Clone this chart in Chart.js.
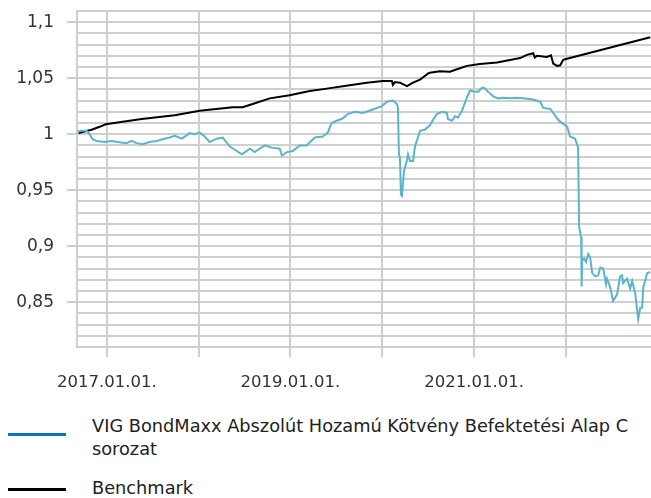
<!DOCTYPE html>
<html>
<head>
<meta charset="utf-8">
<script src="https://cdn.jsdelivr.net/npm/chart.js@4/dist/chart.umd.min.js"></script>
<style>
    body { margin: 0; background: #fff; width: 651px; height: 498px; overflow: hidden; position: relative; font-family: "DejaVu Sans", sans-serif; }
    #wrap { position: absolute; left: 0; top: 0; width: 651px; height: 400px; }
    .leg-line { position: absolute; left: 8px; width: 58px; height: 3px; }
    .leg-text { position: absolute; left: 92px; width: 548px; font-family: "DejaVu Sans", sans-serif; font-size: 17.75px; line-height: 23px; color: #222; }
</style>
</head>
<body>
<div id="wrap"><canvas id="chart" width="651" height="400"></canvas></div>

<div class="leg-line" style="top: 433px; background: #0b72bd;"></div>
<div class="leg-text" style="top: 415px;">VIG BondMaxx Abszolút Hozamú Kötvény Befektetési Alap C sorozat</div>
<div class="leg-line" style="top: 488px; background: #000;"></div>
<div class="leg-text" style="top: 477px;">Benchmark</div>

<script>
// Fund series
var fundDates = [
    '2016-09-06', '2016-09-18', '2016-10-12', '2016-10-24', '2016-11-05', '2016-11-21', '2016-12-23',
    '2017-01-19', '2017-02-13', '2017-03-20', '2017-04-09', '2017-04-29', '2017-05-23', '2017-06-20',
    '2017-07-18', '2017-08-11', '2017-09-08', '2017-09-28', '2017-10-26', '2017-11-14', '2017-11-26', '2017-12-16',
    '2018-01-05', '2018-01-25', '2018-02-14', '2018-03-14', '2018-04-07', '2018-05-05', '2018-06-02',
    '2018-06-22', '2018-07-24', '2018-08-12', '2018-09-21', '2018-10-19', '2018-11-20', '2018-11-28', '2018-12-18',
    '2019-01-11', '2019-02-07', '2019-03-07', '2019-04-08', '2019-05-10', '2019-05-30', '2019-06-14',
    '2019-07-04', '2019-07-28', '2019-08-17', '2019-09-14', '2019-10-16', '2019-11-25', '2019-12-31',
    '2020-01-20', '2020-02-13', '2020-02-29', '2020-03-04', '2020-03-08', '2020-03-12', '2020-03-16',
    '2020-03-20', '2020-03-28', '2020-04-09', '2020-04-13', '2020-04-21', '2020-05-03', '2020-05-11',
    '2020-05-31', '2020-06-19', '2020-07-09', '2020-07-25', '2020-08-06', '2020-08-26', '2020-09-15',
    '2020-09-19', '2020-10-05', '2020-10-17', '2020-10-29', '2020-11-14', '2020-12-04', '2020-12-16',
    '2021-01-05', '2021-01-17', '2021-02-01', '2021-02-13', '2021-02-25', '2021-03-17', '2021-04-06',
    '2021-04-26', '2021-05-24', '2021-06-21', '2021-07-15', '2021-08-24', '2021-09-21', '2021-10-03',
    '2021-10-31', '2021-11-12', '2021-11-28', '2021-12-10',
    '2022-01-06', '2022-01-18', '2022-02-07', '2022-02-19', '2022-02-23', '2022-03-03', '2022-03-05',
    '2022-03-07', '2022-03-15', '2022-03-23', '2022-03-31', '2022-04-08', '2022-04-16', '2022-04-28',
    '2022-05-10', '2022-05-18', '2022-05-30', '2022-06-10', '2022-06-14', '2022-06-26', '2022-07-08',
    '2022-07-24', '2022-08-05', '2022-08-13', '2022-08-17', '2022-09-02', '2022-09-14', '2022-09-22',
    '2022-10-04', '2022-10-16', '2022-10-24', '2022-11-01', '2022-11-05', '2022-11-21', '2022-12-03'
];
var fundValues = [
    1.002, 1.003, 1.003, 1.000, 0.9955, 0.994, 0.993,
    0.994, 0.993, 0.992, 0.994, 0.992, 0.991, 0.993,
    0.994, 0.9955, 0.997, 0.9985, 0.996, 0.999, 1.001, 1.000,
    1.0015, 0.998, 0.993, 0.996, 0.997, 0.989, 0.985,
    0.982, 0.987, 0.984, 0.990, 0.988, 0.987, 0.981, 0.984,
    0.985, 0.990, 0.990, 0.997, 0.998, 1.0015, 1.010,
    1.012, 1.014, 1.018, 1.020, 1.019, 1.022, 1.025,
    1.029, 1.030, 1.027, 1.024, 0.982, 0.979, 0.946,
    0.945, 0.967, 0.977, 0.982, 0.976, 0.976, 0.989,
    1.003, 1.004, 1.008, 1.014, 1.018, 1.020, 1.019,
    1.0135, 1.012, 1.016, 1.015, 1.021, 1.033, 1.039,
    1.038, 1.038, 1.0415, 1.041, 1.038, 1.034, 1.032,
    1.0325, 1.032, 1.0325, 1.032, 1.031, 1.029, 1.0235,
    1.0225, 1.019, 1.014, 1.011,
    1.007, 0.998, 0.996, 0.988, 0.917, 0.908, 0.864,
    0.887, 0.889, 0.886, 0.893, 0.890, 0.876, 0.873,
    0.874, 0.881, 0.880, 0.866, 0.871, 0.864, 0.851,
    0.857, 0.873, 0.874, 0.867, 0.871, 0.862, 0.869,
    0.858, 0.835, 0.845, 0.845, 0.863, 0.876, 0.877
];

// Benchmark series
var benchDates = [
    '2016-09-10', '2016-11-01', '2016-12-03', '2016-12-27', '2017-05-19', '2017-09-28',
    '2018-01-05', '2018-05-16', '2018-06-25', '2018-08-04', '2018-10-11', '2018-12-29',
    '2019-03-19', '2019-05-26', '2019-08-25', '2019-11-01',
    '2020-01-04', '2020-02-09', '2020-02-13', '2020-02-21', '2020-03-12', '2020-04-09', '2020-05-03',
    '2020-05-31', '2020-06-19', '2020-07-01', '2020-07-09', '2020-08-18', '2020-09-27', '2020-10-25', '2020-12-04',
    '2021-01-24', '2021-04-02', '2021-05-24', '2021-07-03', '2021-07-30', '2021-08-24', '2021-08-31',
    '2021-09-08', '2021-10-18', '2021-11-03', '2021-11-12', '2021-11-28', '2021-12-10', '2021-12-21', '2021-12-29',
    '2022-12-03'
];
var benchValues = [
    1.001, 1.004, 1.0066, 1.0088, 1.0135, 1.017,
    1.021, 1.024, 1.024, 1.027, 1.032, 1.0347,
    1.0386, 1.0407, 1.0437, 1.046,
    1.0476, 1.0476, 1.044, 1.0465, 1.046, 1.043, 1.046,
    1.0488, 1.052, 1.054, 1.0549, 1.0563, 1.0558, 1.058, 1.061,
    1.0627, 1.064, 1.0663, 1.068, 1.0708, 1.0723, 1.0684,
    1.070, 1.069, 1.0705, 1.063, 1.061, 1.0615, 1.0663, 1.067,
    1.0865
];

// Axis range and tick labels
var xStart = '2016-09-04';
var xEnd = '2022-12-06';
var yearTicks = ['2017-01-01', '2018-01-01', '2019-01-01', '2020-01-01', '2021-01-01', '2022-01-01'];
var yearLabels = ['2017.01.01.', '', '2019.01.01.', '', '2021.01.01.', ''];
var yMin = 0.81;
var yMax = 1.11;

var gridColor = '#cfcfcf';

function toPoints(dates, values) {
    var pts = [];
    for (var i = 0; i < dates.length; i++) {
        pts.push({ x: Date.parse(dates[i]), y: values[i] });
    }
    return pts;
}

var yearMs = yearTicks.map(function (d) { return Date.parse(d); });

var ctx = document.getElementById('chart').getContext('2d');
window.myChart = new Chart(ctx, {
    type: 'line',
    data: {
        datasets: [{
            label: 'VIG BondMaxx Abszolút Hozamú Kötvény Befektetési Alap C sorozat',
            data: toPoints(fundDates, fundValues),
            borderColor: '#5ab4cc',
            borderWidth: 2,
            pointRadius: 0,
            tension: 0
        }, {
            label: 'Benchmark',
            data: toPoints(benchDates, benchValues),
            borderColor: '#000000',
            borderWidth: 2,
            pointRadius: 0,
            tension: 0
        }]
    },
    options: {
        responsive: false,
        animation: false,
        layout: { padding: { top: 11, right: 0, bottom: 0, left: 0 } },
        plugins: {
            legend: { display: false },
            tooltip: { enabled: false }
        },
        scales: {
            x: {
                type: 'linear',
                min: Date.parse(xStart),
                max: Date.parse(xEnd),
                afterBuildTicks: function (scale) {
                    scale.ticks = yearMs.map(function (v) { return { value: v }; });
                },
                afterFit: function (scale) {
                    scale.height = 53;
                    scale.paddingLeft = 0;
                    scale.paddingRight = 0;
                },
                grid: { color: gridColor, lineWidth: 2, tickLength: 10, tickColor: gridColor },
                border: { color: gridColor, width: 2 },
                ticks: {
                    autoSkip: false,
                    maxRotation: 0,
                    padding: 16,
                    color: '#333',
                    font: { family: 'DejaVu Sans', size: 16.5 },
                    callback: function (value) {
                        var i = yearMs.indexOf(value);
                        return i >= 0 ? yearLabels[i] : '';
                    }
                }
            },
            y: {
                min: yMin,
                max: yMax,
                afterBuildTicks: function (scale) {
                    var t = [];
                    for (var k = Math.round(yMin * 100); k <= Math.round(yMax * 100); k++) {
                        t.push({ value: k / 100 });
                    }
                    scale.ticks = t;
                },
                afterFit: function (scale) {
                    scale.width = 77;
                    scale.paddingTop = 0;
                    scale.paddingBottom = 0;
                },
                grid: {
                    color: gridColor,
                    lineWidth: 2,
                    tickLength: 10,
                    tickColor: function (c) {
                        var k = Math.round(c.tick.value * 100);
                        return k % 5 === 0 ? gridColor : 'rgba(0,0,0,0)';
                    }
                },
                border: { color: gridColor, width: 2 },
                ticks: {
                    autoSkip: false,
                    padding: 13,
                    color: '#333',
                    font: { family: 'DejaVu Sans', size: 17 },
                    callback: function (value) {
                        var k = Math.round(value * 100);
                        if (k % 5 !== 0) return '';
                        return String(k / 100).replace('.', ',');
                    }
                }
            }
        }
    }
});
</script>
</body>
</html>
